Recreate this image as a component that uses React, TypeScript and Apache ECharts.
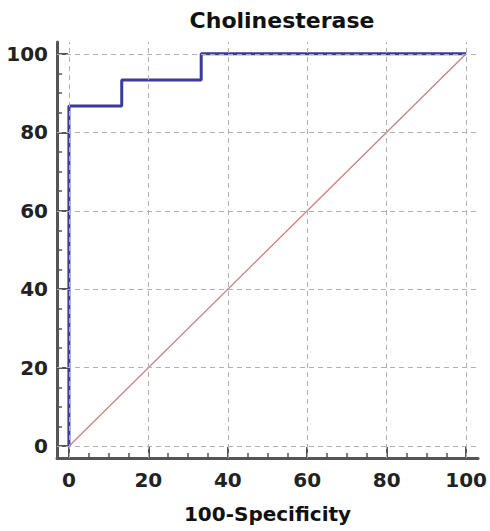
import React, { useEffect, useRef } from "react";
import * as echarts from "echarts";

const titleText = "Cholinesterase";
const xAxisName = "100-Specificity";
const majorTicks = [0, 20, 40, 60, 80, 100];
const minorTicks = [5, 10, 15, 25, 30, 35, 45, 50, 55, 65, 70, 75, 85, 90, 95];
const rocFpr = [0, 0, 13.3, 33.3, 100];
const rocTpr = [0, 86.7, 93.3, 100, 100];
const diagX = [0, 100];
const diagY = [0, 100];

const FONT = "'DejaVu Sans', sans-serif";
const AXIS_COLOR = "#555555";

export default function App() {
  const ref = useRef<HTMLDivElement>(null);
  useEffect(() => {
    document.body.style.margin = "0";
    const chart = echarts.init(ref.current!, null, { renderer: "svg" });
    const axisBase = (pos: "bottom" | "left") => ({
      type: "value" as const,
      min: -3,
      max: 103,
      position: pos,
      splitLine: { show: false },
    });
    const mainAxis = (pos: "bottom" | "left") => ({
      ...axisBase(pos),
      axisLine: { show: true, onZero: false, lineStyle: { color: AXIS_COLOR, width: 3 } },
      axisTick: {
        show: true,
        inside: true,
        length: 11,
        customValues: majorTicks,
        lineStyle: { color: AXIS_COLOR, width: 2 },
      },
      axisLabel: {
        show: true,
        customValues: majorTicks,
        fontFamily: FONT,
        fontWeight: "bold",
        fontSize: 20,
        color: "#222",
        margin: pos === "bottom" ? 12 : 9,
      },
    });
    const minorAxis = (pos: "bottom" | "left") => ({
      ...axisBase(pos),
      axisLine: { show: false, onZero: false },
      axisTick: {
        show: true,
        inside: true,
        length: 5,
        customValues: minorTicks,
        lineStyle: { color: AXIS_COLOR, width: 1.5 },
      },
      axisLabel: { show: false },
    });
    const gridLineStyle = { color: "#b0b0b0", width: 1, type: [5, 4] as any };
    chart.setOption({
      animation: false,
      title: {
        text: titleText,
        left: 277,
        textAlign: "center",
        top: 4,
        textStyle: { fontFamily: FONT, fontWeight: "bold", fontSize: 22, color: "#111" },
      },
      grid: { left: 57, top: 42, width: 424, height: 416, containLabel: false },
      xAxis: [
        {
          ...mainAxis("bottom"),
          name: xAxisName,
          nameLocation: "middle",
          nameGap: 46,
          nameTextStyle: { fontFamily: FONT, fontWeight: "bold", fontSize: 20, color: "#111" },
        },
        { ...minorAxis("bottom") },
      ],
      yAxis: [mainAxis("left"), minorAxis("left")],
      series: [
        {
          type: "line",
          xAxisIndex: 0,
          yAxisIndex: 0,
          data: [],
          z: 1,
          silent: true,
          markLine: {
            silent: true,
            symbol: "none",
            label: { show: false },
            lineStyle: gridLineStyle,
            data: [
              ...majorTicks.map((v) => ({ xAxis: v })),
              ...majorTicks.map((v) => ({ yAxis: v })),
            ],
          },
        },
        {
          type: "line",
          xAxisIndex: 0,
          yAxisIndex: 0,
          data: diagX.map((x, i) => [x, diagY[i]]),
          showSymbol: false,
          symbol: "none",
          z: 2,
          lineStyle: { color: "#c98080", width: 1.3 },
        },
        {
          type: "line",
          xAxisIndex: 0,
          yAxisIndex: 0,
          step: "end",
          data: rocFpr.map((x, i) => [x, rocTpr[i]]),
          showSymbol: false,
          symbol: "none",
          z: 3,
          lineStyle: { color: "#3a3a9e", width: 3 },
        },
      ],
    });
    return () => chart.dispose();
  }, []);
  return <div ref={ref} style={{ width: 490, height: 531 }} />;
}
